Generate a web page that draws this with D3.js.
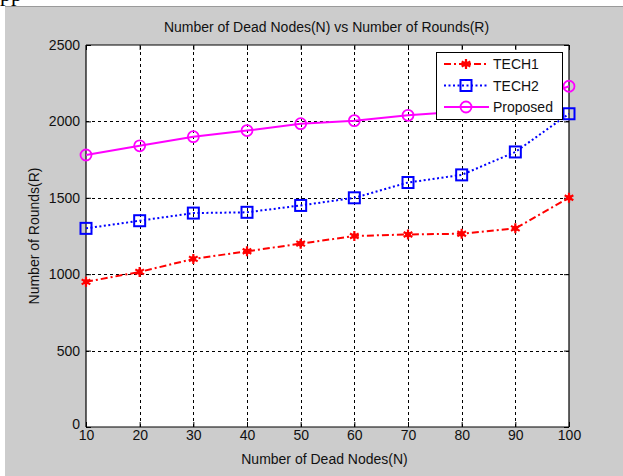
<!DOCTYPE html>
<html>
<head>
<meta charset="utf-8">
<script src="https://cdn.jsdelivr.net/npm/d3@7"></script>
<style>
  body { margin: 0; background: #ffffff; }
  svg { display: block; font-family: "Liberation Sans", Arial, sans-serif; }
</style>
</head>
<body>
<div id="chart"></div>
<script>
const deadNodes = [10, 20, 30, 40, 50, 60, 70, 80, 90, 100];
const tech1 = [950, 1015, 1100, 1150, 1200, 1250, 1260, 1265, 1300, 1500];
const tech2 = [1300, 1350, 1400, 1405, 1450, 1500, 1600, 1650, 1800, 2050];
const proposed = [1780, 1840, 1900, 1940, 1985, 2005, 2040, 2065, 2100, 2230];
const yTicks = [0, 500, 1000, 1500, 2000, 2500];
const seriesNames = ["TECH1", "TECH2", "Proposed"];

const width = 623;
const height = 476;
const margin = {left: 86, right: 54, top: 45, bottom: 49};
const fontSize = 14;

const svg = d3.select("#chart")
    .append("svg")
    .attr("width", width)
    .attr("height", height);

// bit of the page text above the figure
svg.append("text")
    .attr("x", 0)
    .attr("y", 1)
    .attr("font-family", "Liberation Serif, serif")
    .attr("font-size", 22)
    .attr("fill", "#000")
    .text("pp");

// figure background
svg.append("rect")
    .attr("x", 5).attr("y", 6)
    .attr("width", width - 5).attr("height", height - 6)
    .attr("fill", "#cccccc");
svg.append("line")
    .attr("x1", 5).attr("x2", width)
    .attr("y1", 6.5).attr("y2", 6.5)
    .attr("stroke", "#9a9a9a");

const x = d3.scaleLinear()
    .domain([10, 100])
    .range([margin.left, width - margin.right]);

const y = d3.scaleLinear()
    .domain([0, 2500])
    .range([height - margin.bottom, margin.top]);

const plotW = x.range()[1] - x.range()[0];
const plotH = y.range()[0] - y.range()[1];

svg.append("rect")
    .attr("x", margin.left).attr("y", margin.top)
    .attr("width", plotW).attr("height", plotH)
    .attr("fill", "#ffffff");

// grid
const grid = svg.append("g")
    .attr("stroke", "#000")
    .attr("stroke-width", 1)
    .attr("stroke-dasharray", "3,3");
grid.selectAll(".gx")
    .data(deadNodes.slice(1, -1))
    .enter().append("line")
    .attr("x1", d => Math.round(x(d)) + 0.5).attr("x2", d => Math.round(x(d)) + 0.5)
    .attr("y1", y(0)).attr("y2", y(2500));
grid.selectAll(".gy")
    .data(yTicks.slice(1, -1))
    .enter().append("line")
    .attr("y1", d => Math.round(y(d)) + 0.5).attr("y2", d => Math.round(y(d)) + 0.5)
    .attr("x1", x(10)).attr("x2", x(100));

// axes
const xAxis = svg.append("g")
    .attr("transform", `translate(0,${y(0)})`)
    .call(d3.axisBottom(x).tickValues(deadNodes).tickSize(-5).tickPadding(3).tickFormat(d3.format("d")));
const xAxisTop = svg.append("g")
    .attr("transform", `translate(0,${y(2500)})`)
    .call(d3.axisTop(x).tickValues(deadNodes).tickSize(-5).tickFormat(""));
const yAxis = svg.append("g")
    .attr("transform", `translate(${x(10)},0)`)
    .call(d3.axisLeft(y).tickValues(yTicks).tickSize(-5).tickPadding(6).tickFormat(d3.format("d")));
const yAxisRight = svg.append("g")
    .attr("transform", `translate(${x(100)},0)`)
    .call(d3.axisRight(y).tickValues(yTicks).tickSize(-5).tickFormat(""));

[xAxis, xAxisTop, yAxis, yAxisRight].forEach(g => {
    g.select(".domain").attr("stroke", "#000").attr("stroke-width", 1.2);
    g.selectAll(".tick line").attr("stroke", "#000");
    g.selectAll("text")
        .attr("font-family", "Liberation Sans, Arial, sans-serif")
        .attr("font-size", fontSize)
        .attr("fill", "#111");
});
xAxis.select(".domain").attr("d", `M${x(10)},0H${x(100)}`);
xAxisTop.select(".domain").attr("d", `M${x(10)},0H${x(100)}`);
yAxis.select(".domain").attr("d", `M0,${y(0)}V${y(2500)}`);
yAxisRight.select(".domain").attr("d", `M0,${y(0)}V${y(2500)}`);
// the 0 label sits a little above the corner, like the original
yAxis.selectAll(".tick text").filter(d => d === 0).attr("dy", "0.1em");

// titles
svg.append("text")
    .attr("x", (x(10) + x(100)) / 2 - 1)
    .attr("y", 32)
    .attr("text-anchor", "middle")
    .attr("font-size", fontSize)
    .attr("fill", "#111")
    .text("Number of Dead Nodes(N) vs Number of Rounds(R)");

svg.append("text")
    .attr("x", (x(10) + x(100)) / 2 - 3)
    .attr("y", 464)
    .attr("text-anchor", "middle")
    .attr("font-size", fontSize)
    .attr("fill", "#111")
    .text("Number of Dead Nodes(N)");

svg.append("text")
    .attr("transform", `translate(39,${(y(0) + y(2500)) / 2}) rotate(-90)`)
    .attr("text-anchor", "middle")
    .attr("font-size", fontSize)
    .attr("fill", "#111")
    .text("Number of Rounds(R)");

// series
const series = [
    {name: seriesNames[0], values: tech1, color: "#ff0000", dash: "7,3,2,3", marker: "star"},
    {name: seriesNames[1], values: tech2, color: "#0000ff", dash: "2,2.5", marker: "square"},
    {name: seriesNames[2], values: proposed, color: "#ff00ff", dash: null, marker: "circle"}
];

const line = d3.line()
    .x((d, i) => x(deadNodes[i]))
    .y(d => y(d));

function drawMarker(g, type, color) {
    if (type === "star") {
        g.append("path")
            .attr("d", d3.symbol().type(d3.symbolAsterisk).size(70)())
            .attr("stroke", color)
            .attr("stroke-width", 2.2)
            .attr("fill", "none");
        g.append("circle").attr("r", 2.8).attr("fill", color);
    } else if (type === "square") {
        g.append("rect")
            .attr("x", -5.5).attr("y", -5.5)
            .attr("width", 11).attr("height", 11)
            .attr("fill", "none")
            .attr("stroke", color)
            .attr("stroke-width", 2);
    } else {
        g.append("circle")
            .attr("r", 5.5)
            .attr("fill", "none")
            .attr("stroke", color)
            .attr("stroke-width", 1.8);
    }
}

series.forEach(s => {
    svg.append("path")
        .datum(s.values)
        .attr("d", line)
        .attr("fill", "none")
        .attr("stroke", s.color)
        .attr("stroke-width", 2)
        .attr("stroke-dasharray", s.dash);
    svg.selectAll(null)
        .data(s.values)
        .enter().append("g")
        .attr("transform", (d, i) => `translate(${x(deadNodes[i])},${y(d)})`)
        .each(function () { drawMarker(d3.select(this), s.marker, s.color); });
});

// legend
const legend = svg.append("g").attr("transform", "translate(436,52)");
legend.append("rect")
    .attr("x", 0.5).attr("y", 0.5)
    .attr("width", 126).attr("height", 67)
    .attr("fill", "#ffffff")
    .attr("stroke", "#000")
    .attr("stroke-width", 1);

series.forEach((s, i) => {
    const ly = 12 + i * 21.5;
    legend.append("line")
        .attr("x1", 8).attr("x2", 53)
        .attr("y1", ly).attr("y2", ly)
        .attr("stroke", s.color)
        .attr("stroke-width", 2)
        .attr("stroke-dasharray", s.dash);
    drawMarker(legend.append("g").attr("transform", `translate(30,${ly})`), s.marker, s.color);
    legend.append("text")
        .attr("x", 57)
        .attr("y", ly + 5)
        .attr("font-size", fontSize)
        .attr("fill", "#111")
        .text(s.name);
});
</script>
</body>
</html>
